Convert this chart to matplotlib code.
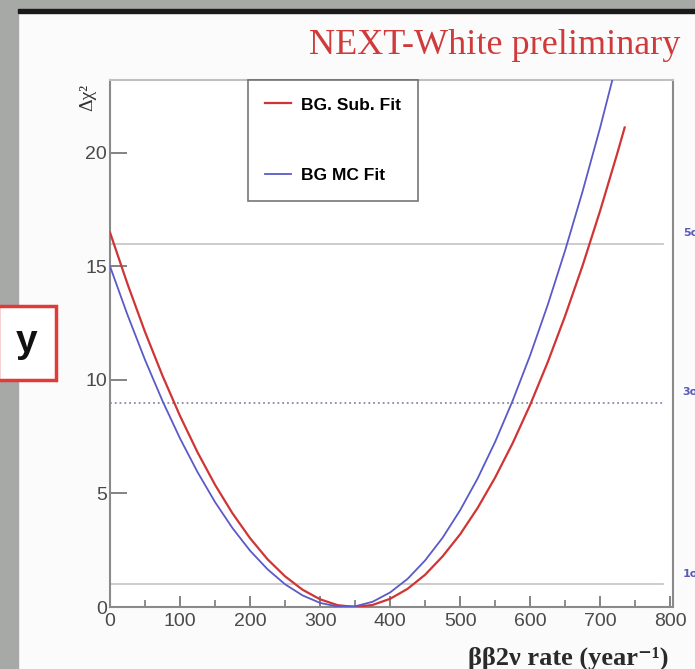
import matplotlib
matplotlib.use('Agg')
from matplotlib import pyplot as plt
from matplotlib.patches import Rectangle

# Delta chi^2 scans vs bb2nu rate
rate_sub = [0, 25, 50, 75, 100, 125, 150, 175, 200, 225, 250, 275, 300, 325, 350,
            375, 400, 425, 450, 475, 500, 525, 550, 575, 600, 625, 650, 675, 700, 725, 735]
chi_sub = [16.49, 14.22, 12.11, 10.18, 8.41, 6.81, 5.38, 4.12, 3.03, 2.10, 1.35, 0.76, 0.34, 0.08, 0.00,
           0.09, 0.36, 0.80, 1.42, 2.23, 3.20, 4.36, 5.70, 7.21, 8.90, 10.77, 12.82, 15.04, 17.45, 20.03, 21.11]

rate_mc = [0, 25, 50, 75, 100, 125, 150, 175, 200, 225, 250, 275, 300, 325, 350,
           375, 400, 425, 450, 475, 500, 525, 550, 575, 600, 625, 650, 675, 700, 725]
chi_mc = [15.00, 12.86, 10.88, 9.07, 7.42, 5.94, 4.62, 3.47, 2.48, 1.66, 1.00, 0.51, 0.18, 0.02, 0.03,
          0.23, 0.64, 1.24, 2.05, 3.05, 4.26, 5.66, 7.27, 9.08, 11.08, 13.29, 15.70, 18.31, 21.11, 24.12]

sigma_levels = [1, 9, 16]
sigma_labels = ['1σ', '3σ', '5σ']
sigma_styles = ['-', ':', '-']
sigma_colors = ['#c8c8c8', '#8a8aa8', '#c8c8c8']

x_ticks = [0, 100, 200, 300, 400, 500, 600, 700, 800]
y_ticks = [0, 5, 10, 15, 20]

W, H = 695, 669
fig = plt.figure(figsize=(W / 100, H / 100), dpi=100)
fig.patch.set_facecolor('#fbfbfb')

# slide frame: grey strips and dark rule
fig.add_artist(Rectangle((0, 0), 18 / W, 1, transform=fig.transFigure, color='#a7a9a7', zorder=0))
fig.add_artist(Rectangle((0, 1 - 9 / H), 1, 9 / H, transform=fig.transFigure, color='#a7a9a7', zorder=0))
fig.add_artist(Rectangle((18 / W, 1 - 13 / H), 1, 4 / H, transform=fig.transFigure, color='#1a1a1a', zorder=1))

ax = fig.add_axes([110 / W, (H - 607) / H, 563 / W, 527 / H])
ax.set_facecolor('white')

ax.plot(rate_sub, chi_sub, color='#d03535', lw=1.6, label='BG. Sub. Fit', zorder=3)
ax.plot(rate_mc, chi_mc, color='#5a5ac8', lw=1.3, label='BG MC Fit', zorder=3)

for lev, lab, ls, col in zip(sigma_levels, sigma_labels, sigma_styles, sigma_colors):
    ax.plot([0, 790], [lev, lev], ls=ls, color=col, lw=1.3, zorder=2)
    ax.text(818, lev + 0.45, lab, color='#5a5ab8', fontsize=8, fontweight='bold',
            va='center', ha='left', clip_on=False)

ax.set_xlim(0, 804)
ax.set_ylim(0, 23.2)
ax.set_xticks(x_ticks)
ax.set_xticks([50, 150, 250, 350, 450, 550, 650, 750], minor=True)
ax.set_yticks(y_ticks)

for sp in ax.spines.values():
    sp.set_color('#8a8a8a')
    sp.set_linewidth(1.5)
ax.spines['top'].set_color('#c0c0c0')

ax.tick_params(axis='both', which='major', direction='in', color='#7a7a7a', width=1.3,
               labelsize=14, labelcolor='#4a4a4a', pad=2)
ax.tick_params(axis='y', which='major', length=12)
ax.tick_params(axis='x', which='major', length=8, pad=4)
ax.tick_params(axis='x', which='minor', direction='in', length=5, width=1.2, color='#7a7a7a')
for lbl in ax.get_xticklabels() + ax.get_yticklabels():
    lbl.set_family('Liberation Sans')

leg = ax.legend(loc='upper left', bbox_to_anchor=(0.245, 1.0, 0.302, 0.0), mode='expand',
                borderaxespad=0, fancybox=False, frameon=True, handlelength=1.5,
                handletextpad=0.55, borderpad=1.0, labelspacing=3.2,
                prop={'family': 'Liberation Sans', 'weight': 'bold', 'size': 12.5})
leg.get_frame().set_edgecolor('#555555')
leg.get_frame().set_linewidth(1.2)

ax.text(-0.039, 0.966, 'Δχ²', transform=ax.transAxes, rotation=90, ha='center', va='center',
        fontsize=14, family=['Liberation Serif', 'DejaVu Serif'], color='#333333')

fig.text(680 / W, 1 - 45 / H, 'NEXT-White preliminary', ha='right', va='center',
         fontsize=26, family='Liberation Serif', color='#d03a3a')

fig.text(668 / W, 1 - 658 / H, 'ββ2ν rate (year⁻¹)', ha='right', va='center',
         fontsize=19, fontweight='bold', family=['Liberation Serif', 'DejaVu Serif'], color='#2a2a2a')

# "y" tag on the left edge
fig.add_artist(Rectangle((-2 / W, 1 - 380 / H), 58 / W, 74 / H, transform=fig.transFigure,
                         facecolor='white', edgecolor='#e03a3a', lw=2.5, zorder=5))
fig.text(27 / W, 1 - 342 / H, 'y', ha='center', va='center', fontsize=28, fontweight='bold',
         family='Liberation Sans', color='#111111', zorder=6)

fig.savefig('out.png', dpi=100, facecolor=fig.get_facecolor())
